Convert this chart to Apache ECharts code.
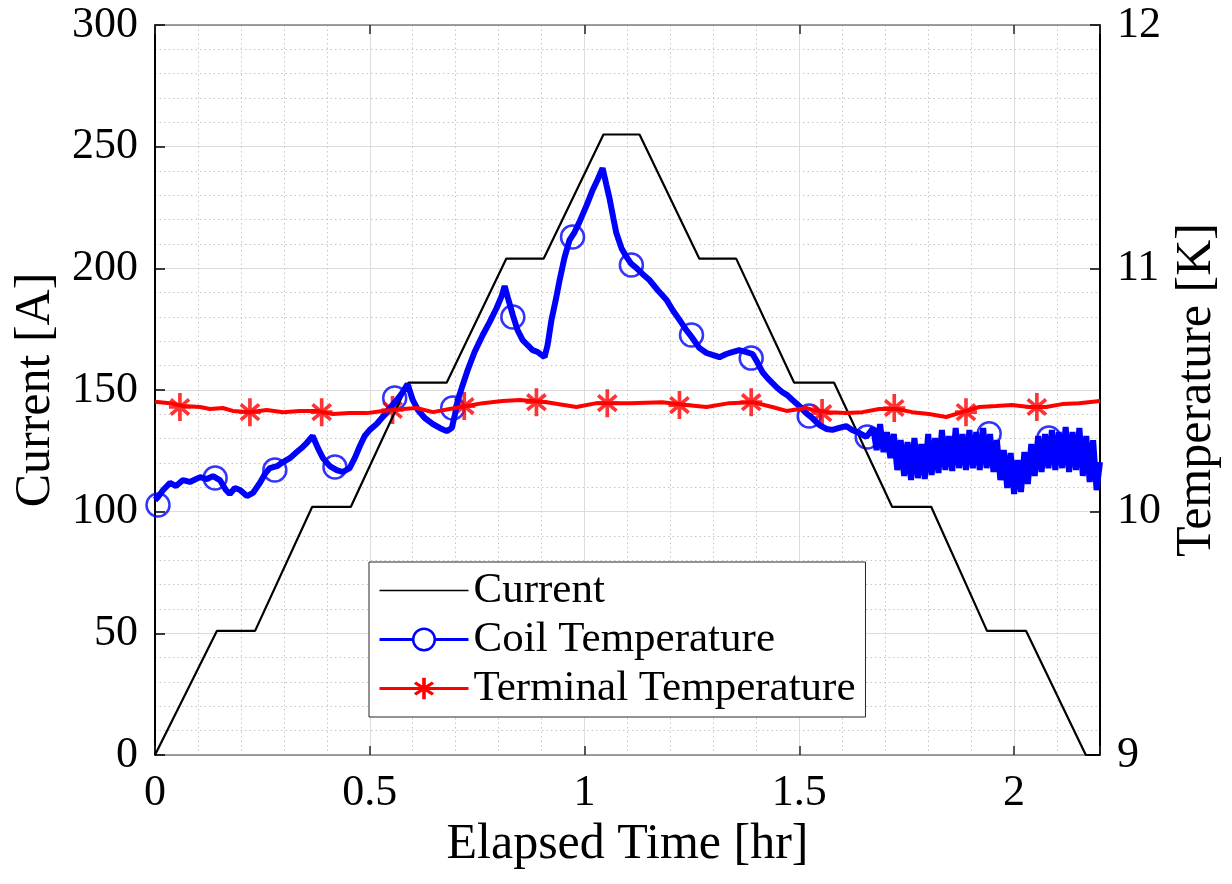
<!DOCTYPE html>
<html>
<head>
<meta charset="utf-8">
<script src="https://cdn.jsdelivr.net/npm/echarts@6/dist/echarts.min.js"></script>
<style>html,body{margin:0;padding:0;background:#fff}#c{width:1232px;height:884px}</style>
</head>
<body>
<div id="c"></div>
<script>
// ---------- data ----------
const seriesNames = ['Current', 'Coil Temperature', 'Terminal Temperature'];
const axisTitles = ['Elapsed Time [hr]', 'Current [A]', 'Temperature [K]'];

const currentTime = [0, 0.144, 0.233, 0.366, 0.456, 0.590, 0.679, 0.818, 0.905, 1.044, 1.128, 1.267, 1.353, 1.488, 1.581, 1.716, 1.807, 1.937, 2.028, 2.167, 2.2];
const currentAmps = [0, 51, 51, 102, 102, 153, 153, 204, 204, 255, 255, 204, 204, 153, 153, 102, 102, 51, 51, 0, 0];

const coilTime = [
  0.000,0.007,0.019,0.035,0.049,0.065,0.081,0.105,0.121,0.135,
  0.151,0.165,0.174,0.186,0.198,0.214,0.228,0.244,0.256,0.267,
  0.284,0.298,0.314,0.330,0.344,0.353,0.367,0.379,0.391,0.407,
  0.423,0.437,0.453,0.465,0.477,0.488,0.500,0.516,0.530,0.547,
  0.563,0.577,0.588,0.600,0.612,0.628,0.647,0.663,0.679,0.691,
  0.698,0.705,0.714,0.728,0.744,0.763,0.779,0.795,0.807,0.814,
  0.821,0.833,0.844,0.856,0.867,0.879,0.891,0.907,0.914,0.923,
  0.933,0.942,0.953,0.965,0.977,0.988,1.005,1.019,1.030,1.042,
  1.051,1.058,1.067,1.074,1.086,1.098,1.109,1.121,1.135,1.151,
  1.170,1.191,1.205,1.221,1.237,1.251,1.267,1.284,1.298,1.314,
  1.330,1.344,1.360,1.377,1.391,1.402,1.414,1.426,1.437,1.449,
  1.460,1.472,1.484,1.500,1.516,1.530,1.547,1.563,1.577,1.593,
  1.609,1.623,1.640,1.656,
  1.672,1.680,1.688,1.696,1.704,1.712,1.720,1.728,1.736,1.744,
  1.752,1.760,1.768,1.776,1.784,1.792,1.800,1.808,1.816,1.824,
  1.832,1.840,1.848,1.856,1.864,1.872,1.880,1.888,1.896,1.904,
  1.912,1.920,1.928,1.936,1.944,1.952,1.960,1.968,1.976,1.984,
  1.992,2.000,2.008,2.016,2.024,2.032,2.040,2.048,2.056,2.064,
  2.072,2.080,2.088,2.096,2.104,2.112,2.120,2.128,2.136,2.144,
  2.152,2.160,2.168,2.176,2.184,2.192,2.200
];
const coilTemp = [
  10.048,10.060,10.089,10.118,10.105,10.130,10.122,10.142,10.134,10.146,
  10.130,10.089,10.073,10.097,10.089,10.064,10.077,10.118,10.155,10.179,
  10.187,10.204,10.220,10.245,10.266,10.282,10.311,10.262,10.220,10.187,
  10.171,10.163,10.179,10.220,10.270,10.311,10.336,10.360,10.389,10.426,
  10.459,10.492,10.525,10.459,10.418,10.385,10.360,10.344,10.331,10.344,
  10.397,10.459,10.508,10.582,10.656,10.726,10.779,10.836,10.886,10.927,
  10.882,10.808,10.746,10.705,10.685,10.664,10.656,10.635,10.685,10.788,
  10.870,10.952,11.042,11.116,11.149,11.190,11.260,11.322,11.363,11.412,
  11.342,11.289,11.207,11.145,11.083,11.046,11.018,11.001,10.977,10.952,
  10.911,10.870,10.829,10.788,10.746,10.714,10.673,10.652,10.644,10.635,
  10.648,10.656,10.664,10.656,10.648,10.615,10.574,10.549,10.529,10.508,
  10.492,10.479,10.459,10.434,10.405,10.385,10.356,10.340,10.336,10.344,
  10.352,10.336,10.323,10.307,
  10.344,10.253,10.360,10.245,10.327,10.220,10.319,10.171,10.294,10.147,
  10.286,10.130,10.303,10.138,10.278,10.134,10.319,10.151,10.303,10.159,
  10.336,10.171,10.311,10.167,10.344,10.179,10.319,10.171,10.336,10.179,
  10.327,10.171,10.344,10.179,10.319,10.163,10.294,10.130,10.253,10.097,
  10.241,10.073,10.212,10.081,10.245,10.114,10.278,10.147,10.311,10.163,
  10.319,10.179,10.336,10.171,10.327,10.179,10.348,10.163,10.327,10.171,
  10.344,10.147,10.311,10.122,10.294,10.089,10.204
];
const coilMarkTime = [0.007,0.140,0.279,0.419,0.558,0.693,0.833,0.972,1.109,1.249,1.388,1.523,1.658,1.798,1.942,2.081];
const coilMarkTemp = [10.027,10.138,10.171,10.184,10.467,10.426,10.800,11.129,11.014,10.726,10.631,10.393,10.307,10.225,10.320,10.303];

const termTime = [
  0,0.035,0.065,0.105,0.128,0.158,0.181,0.221,0.260,0.298,
  0.337,0.377,0.414,0.453,0.493,0.530,0.577,0.609,0.647,0.686,
  0.726,0.763,0.809,0.849,0.912,0.981,1.028,1.105,1.181,1.237,
  1.284,1.337,1.391,1.437,1.470,1.516,1.530,1.570,1.609,1.647,
  1.686,1.726,1.763,1.802,1.842,1.879,1.919,1.958,1.995,2.035,
  2.074,2.112,2.151,2.200
];
const termTemp = [
  10.452,10.446,10.434,10.430,10.422,10.426,10.414,10.409,10.418,10.409,
  10.414,10.414,10.401,10.405,10.405,10.414,10.422,10.426,10.409,10.422,
  10.434,10.446,10.455,10.459,10.450,10.430,10.446,10.446,10.450,10.438,
  10.430,10.446,10.450,10.430,10.414,10.426,10.418,10.409,10.405,10.409,
  10.422,10.422,10.409,10.401,10.389,10.409,10.430,10.434,10.438,10.430,
  10.430,10.442,10.446,10.455
];
const termMarkTime = [0.058,0.221,0.388,0.553,0.720,0.888,1.053,1.221,1.388,1.553,1.721,1.888,2.053];
const termMarkTemp = [10.430,10.409,10.409,10.418,10.434,10.450,10.446,10.438,10.450,10.405,10.426,10.409,10.430];

// ---------- chart ----------
const zip = (a, b) => a.map((v, i) => [v, b[i]]);
const FONT = '"Liberation Serif", "Times New Roman", serif';
const ASTERISK = 'path://M7.5,0L10.5,0L10.5,23L7.5,23Z' +
  'M0,10L18,10L18,13L0,13Z' +
  'M2.464,4.051L17.464,16.651L15.536,18.949L0.536,6.349Z' +
  'M0.536,16.651L15.536,4.051L17.464,6.349L2.464,18.949Z';
const minorGrid = { show: true, lineStyle: { color: '#c6c6c6', width: 1, type: [1.5, 3] } };
const majorGrid = { show: true, lineStyle: { color: '#dcdcdc', width: 1 } };

const chart = echarts.init(document.getElementById('c'), null, { renderer: 'canvas' });
chart.setOption({
  animation: false,
  backgroundColor: '#fff',
  grid: { left: 155, right: 132, top: 25, bottom: 129, containLabel: false },
  legend: {
    orient: 'vertical', left: 369, top: 562,
    padding: [7, 10, 7, 9], itemGap: 6, itemWidth: 89, itemHeight: 27,
    backgroundColor: '#fff', borderColor: '#262626', borderWidth: 1,
    textStyle: { fontFamily: FONT, fontSize: 43, color: '#000', lineHeight: 42 },
    data: [
      { name: seriesNames[0], icon: 'path://M0,0L89,0L89,1.6L0,1.6Z', itemStyle: { color: '#000', borderWidth: 0 } },
      { name: seriesNames[1], itemStyle: { color: '#fff', borderColor: '#0000ff', borderWidth: 2.5 }, lineStyle: { color: '#0000ff', width: 3 } },
      { name: seriesNames[2], itemStyle: { color: '#ff0000', borderWidth: 0 }, lineStyle: { color: '#ff0000', width: 3 } }
    ]
  },
  xAxis: [
    {
      type: 'value', position: 'bottom', min: 0, max: 2.2, interval: 0.5,
      axisLine: { show: true, onZero: false, lineStyle: { color: '#7f7f7f', width: 1.5 } },
      axisTick: { show: true, inside: true, length: 9, lineStyle: { color: '#262626', width: 1.5 } },
      axisLabel: { margin: 16, fontSize: 44, fontFamily: FONT, color: '#000',
        formatter: v => (v > 2.15 ? '' : String(v)) },
      splitLine: majorGrid,
      minorTick: { show: false, splitNumber: 5 },
      minorSplitLine: minorGrid,
      name: axisTitles[0], nameLocation: 'middle', nameGap: 62,
      nameTextStyle: { fontSize: 50, fontFamily: FONT, color: '#000' }
    },
    {
      type: 'value', position: 'top', min: 0, max: 2.2, interval: 0.5,
      axisLine: { show: true, onZero: false, lineStyle: { color: '#7f7f7f', width: 1.5 } },
      axisTick: { show: true, inside: true, length: 9, lineStyle: { color: '#262626', width: 1.5 } },
      axisLabel: { show: false }, splitLine: { show: false }
    }
  ],
  yAxis: [
    {
      type: 'value', position: 'left', min: 0, max: 300, interval: 50,
      axisLine: { show: true, onZero: false, lineStyle: { color: '#000', width: 2 } },
      axisTick: { show: true, inside: true, length: 10, lineStyle: { color: '#000', width: 1.5 } },
      axisLabel: { margin: 17, fontSize: 44, fontFamily: FONT, color: '#000' },
      splitLine: majorGrid,
      minorTick: { show: false, splitNumber: 5 },
      minorSplitLine: minorGrid,
      name: axisTitles[1], nameLocation: 'middle', nameGap: 93,
      nameTextStyle: { fontSize: 50, fontFamily: FONT, color: '#000' }
    },
    {
      type: 'value', position: 'right', min: 9, max: 12, interval: 1,
      axisLine: { show: true, onZero: false, lineStyle: { color: '#000', width: 2 } },
      axisTick: { show: true, inside: true, length: 10, lineStyle: { color: '#000', width: 1.5 } },
      axisLabel: { margin: 17, fontSize: 44, fontFamily: FONT, color: '#000' },
      splitLine: { show: false },
      name: axisTitles[2], nameLocation: 'middle', nameGap: 72,
      nameTextStyle: { fontSize: 50, fontFamily: FONT, color: '#000' }
    }
  ],
  series: [
    {
      type: 'line', name: seriesNames[0], xAxisIndex: 0, yAxisIndex: 0,
      data: zip(currentTime, currentAmps), symbol: 'none',
      lineStyle: { color: '#000', width: 2.2 }, itemStyle: { color: '#000' }
    },
    {
      type: 'scatter', name: 'coilMarkers', xAxisIndex: 0, yAxisIndex: 1,
      data: zip(coilMarkTime, coilMarkTemp), symbol: 'circle', symbolSize: 23, silent: true,
      itemStyle: { color: 'rgba(0,0,0,0)', borderColor: '#0000ff', borderWidth: 2.5 }
    },
    {
      type: 'line', name: seriesNames[1], xAxisIndex: 0, yAxisIndex: 1,
      data: zip(coilTime, coilTemp), symbol: 'circle', showSymbol: false,
      lineStyle: { color: '#0000ff', width: 6 }, itemStyle: { color: '#0000ff' }
    },
    {
      type: 'scatter', name: 'termMarkers', xAxisIndex: 0, yAxisIndex: 1,
      data: zip(termMarkTime, termMarkTemp), symbol: ASTERISK, symbolSize: [22, 28], silent: true,
      itemStyle: { color: '#ff0000' }
    },
    {
      type: 'line', name: seriesNames[2], xAxisIndex: 0, yAxisIndex: 1,
      data: zip(termTime, termTemp), symbol: ASTERISK, showSymbol: false,
      lineStyle: { color: '#ff0000', width: 4 }, itemStyle: { color: '#ff0000' }
    }
  ]
});
</script>
</body>
</html>
